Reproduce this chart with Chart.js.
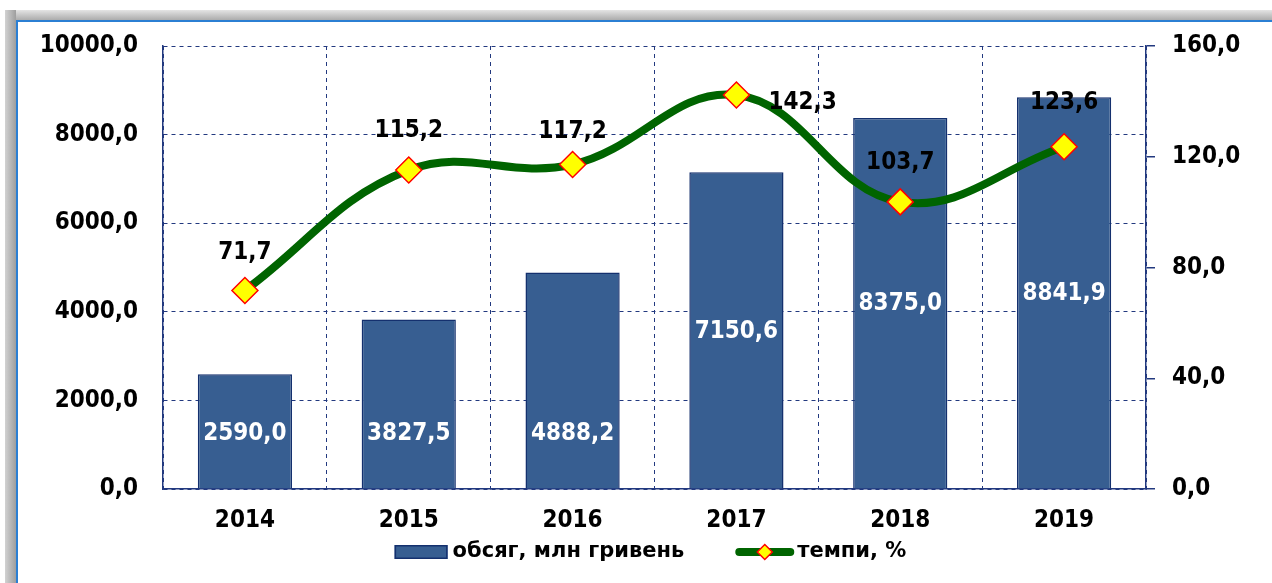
<!DOCTYPE html>
<html>
<head>
<meta charset="utf-8">
<script src="https://cdn.jsdelivr.net/npm/chart.js@4"></script>
<style>
    html, body { margin: 0; padding: 0; background: #fff; }
    body { width: 1272px; height: 583px; position: relative; overflow: hidden; }
    .frame-top { position: absolute; left: 5px; top: 10px; width: 1267px; height: 10px;
        background: linear-gradient(#e4e4e4, #acacac); }
    .frame-left { position: absolute; left: 5px; top: 10px; width: 11px; height: 573px;
        background: linear-gradient(90deg, #d2d2d2, #9e9e9e); }
    .line-top { position: absolute; left: 16px; top: 20px; width: 1256px; height: 2px; background: #2b7fd3; }
    .line-left { position: absolute; left: 16px; top: 20px; width: 2px; height: 563px; background: #2b7fd3; }
    #chart-box { position: absolute; left: 0; top: 0; width: 1272px; height: 583px; }
</style>
</head>
<body>
<div class="frame-top"></div>
<div class="frame-left"></div>
<div class="line-top"></div>
<div class="line-left"></div>
<div id="chart-box"><canvas id="chart"></canvas></div>
<script>
// data
const years = ['2014', '2015', '2016', '2017', '2018', '2019'];
const volume = [2590.0, 3827.5, 4888.2, 7150.6, 8375.0, 8841.9];
const growth = [71.7, 115.2, 117.2, 142.3, 103.7, 123.6];
const seriesNames = ['обсяг, млн гривень', 'темпи, %'];

const FONT = '"DejaVu Sans Condensed", "DejaVu Sans", sans-serif';
const NAVY = '#22397f';
const BAR_FILL = '#375e91';
const BAR_EDGE = '#14306e';
const GREEN = '#006400';

// where each value label sits
const barLabelPlace = ['bottom', 'bottom', 'bottom', 'center', 'center', 'center'];
const lineLabelPlace = ['top', 'top', 'top', 'right', 'top', 'top'];
const lineLabelLift = [38, 39, 33, 0, 39, 44];

const fmt = v => v.toFixed(1).replace('.', ',');

function drawDiamond(ctx, x, y, r) {
    ctx.save();
    ctx.fillStyle = '#ffff00';
    ctx.strokeStyle = '#ff0000';
    ctx.lineWidth = 1.5;
    ctx.beginPath();
    ctx.moveTo(x, y - r); ctx.lineTo(x + r, y); ctx.lineTo(x, y + r); ctx.lineTo(x - r, y);
    ctx.closePath();
    ctx.fill(); ctx.stroke();
    ctx.restore();
}

const valueLabels = {
    id: 'valueLabels',
    afterDatasetsDraw(chart) {
        const ctx = chart.ctx;
        ctx.save();
        ctx.font = 'bold 24px ' + FONT;
        ctx.textBaseline = 'middle';

        chart.getDatasetMeta(0).data.forEach((bar, i) => {
            const y = barLabelPlace[i] === 'center' ? (bar.y + bar.base) / 2 : bar.base - 56;
            ctx.fillStyle = '#ffffff';
            ctx.textAlign = 'center';
            ctx.fillText(fmt(volume[i]), bar.x, y + 1);
        });

        chart.getDatasetMeta(1).data.forEach((pt, i) => {
            ctx.fillStyle = '#000000';
            if (lineLabelPlace[i] === 'right') {
                ctx.textAlign = 'left';
                ctx.fillText(fmt(growth[i]), pt.x + 32, pt.y + 8);
            } else {
                ctx.textAlign = 'center';
                ctx.fillText(fmt(growth[i]), pt.x, pt.y - lineLabelLift[i]);
            }
        });
        ctx.restore();
    }
};

// legend drawn by hand: bar swatch, then line with a diamond
const bottomLegend = {
    id: 'bottomLegend',
    afterDraw(chart) {
        const ctx = chart.ctx;
        const area = chart.chartArea;
        ctx.save();
        ctx.font = 'bold 21px "DejaVu Sans", sans-serif';
        ctx.textBaseline = 'middle';
        ctx.textAlign = 'left';
        const w1 = ctx.measureText(seriesNames[0]).width;
        const w2 = ctx.measureText(seriesNames[1]).width;
        const total = 53 + 5 + w1 + 51 + 59 + 3 + w2;
        let x = (area.left + area.right) / 2 - 4 - total / 2;
        const y = area.bottom + 63;

        ctx.fillStyle = BAR_FILL;
        ctx.fillRect(x, y - 7, 53, 14);
        ctx.strokeStyle = BAR_EDGE;
        ctx.lineWidth = 1.5;
        ctx.strokeRect(x + 0.75, y - 6.25, 51.5, 12.5);
        x += 53 + 5;
        ctx.fillStyle = '#000';
        ctx.fillText(seriesNames[0], x, y);
        x += w1 + 51;

        ctx.strokeStyle = GREEN;
        ctx.lineWidth = 8;
        ctx.lineCap = 'round';
        ctx.beginPath(); ctx.moveTo(x + 4, y); ctx.lineTo(x + 55, y); ctx.stroke();
        drawDiamond(ctx, x + 29.5, y, 7.5);
        x += 59 + 3;
        ctx.fillStyle = '#000';
        ctx.fillText(seriesNames[1], x, y);
        ctx.restore();
    }
};

new Chart(document.getElementById('chart'), {
    type: 'bar',
    data: {
        labels: years,
        datasets: [
            {
                type: 'bar',
                label: seriesNames[0],
                data: volume,
                yAxisID: 'y',
                backgroundColor: BAR_FILL,
                borderColor: BAR_EDGE,
                borderWidth: 1.5,
                categoryPercentage: 1,
                barPercentage: 0.575,
                order: 2
            },
            {
                type: 'line',
                label: seriesNames[1],
                data: growth,
                yAxisID: 'y1',
                borderColor: GREEN,
                borderWidth: 8,
                tension: 0.4,
                pointStyle: 'rectRot',
                pointRadius: 13,
                pointBackgroundColor: '#ffff00',
                pointBorderColor: '#ff0000',
                pointBorderWidth: 1.5,
                order: 1
            }
        ]
    },
    options: {
        responsive: true,
        maintainAspectRatio: false,
        animation: false,
        layout: { padding: { top: 46, left: 0, right: 0, bottom: 42 } },
        plugins: {
            tooltip: { enabled: false },
            legend: { display: false }
        },
        scales: {
            x: {
                afterFit(scale) { scale.height = 52; },
                grid: { color: NAVY, lineWidth: 1, tickLength: 0, offset: true },
                border: { color: NAVY, width: 1.5, dash: [4, 4] },
                ticks: { color: '#000', padding: 17, font: { family: FONT, size: 24, weight: 'bold' } }
            },
            y: {
                position: 'left',
                min: 0,
                max: 10000,
                afterFit(scale) { scale.width = 163; },
                grid: { color: NAVY, lineWidth: 1, drawTicks: false },
                border: { color: NAVY, width: 1.5, dash: [4, 4] },
                ticks: {
                    stepSize: 2000,
                    padding: 25,
                    color: '#000',
                    font: { family: FONT, size: 24, weight: 'bold' },
                    callback: v => fmt(v)
                }
            },
            y1: {
                position: 'right',
                min: 0,
                max: 160,
                afterFit(scale) { scale.width = 126; },
                grid: { drawOnChartArea: false, color: NAVY, tickColor: NAVY, tickLength: 9, lineWidth: 1.5 },
                border: { color: NAVY, width: 1.5 },
                ticks: {
                    stepSize: 40,
                    padding: 17,
                    color: '#000',
                    font: { family: FONT, size: 24, weight: 'bold' },
                    callback: v => fmt(v)
                }
            }
        }
    },
    plugins: [valueLabels, bottomLegend]
});
</script>
</body>
</html>
